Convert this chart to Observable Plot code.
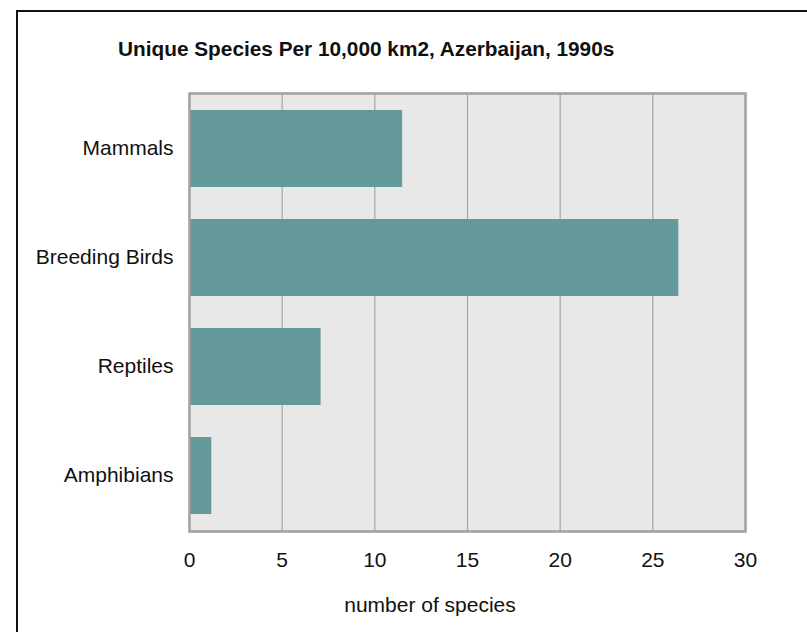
<!DOCTYPE html>
<html>
<head>
<meta charset="utf-8">
<script src="https://cdn.jsdelivr.net/npm/d3@7"></script>
<script src="https://cdn.jsdelivr.net/npm/@observablehq/plot@0.6"></script>
<style>
  html, body { margin: 0; padding: 0; background: #fff; overflow: hidden; }
  #wrap { position: relative; width: 807px; height: 632px; overflow: hidden; font-family: "Liberation Sans", Arial, sans-serif; }
  #border { position: absolute; left: 16px; top: 10px; width: 820px; height: 660px; border: 2px solid #111; box-sizing: border-box; }
  #title { position: absolute; left: 118px; top: 37px; font-size: 20.8px; font-weight: bold; color: #111; white-space: nowrap; }
  #xlabel { position: absolute; left: 430px; top: 593px; transform: translateX(-50%); font-size: 21px; color: #111; white-space: nowrap; }
  #chart { position: absolute; left: 0; top: 70px; }
</style>
</head>
<body>
<div id="wrap">
  <div id="border"></div>
  <div id="title">Unique Species Per 10,000 km2, Azerbaijan, 1990s</div>
  <div id="chart"></div>
  <div id="xlabel">number of species</div>
</div>
<script>
const categories = ["Mammals", "Breeding Birds", "Reptiles", "Amphibians"];
const values = [11.5, 26.4, 7.1, 1.2];
const xTicks = [0, 5, 10, 15, 20, 25, 30];
const gridTicks = [5, 10, 15, 20, 25];

const data = categories.map((c, i) => ({category: c, value: values[i]}));

const chart = Plot.plot({
  width: 807,
  height: 562,
  marginLeft: 189,
  marginRight: 62,
  marginTop: 23,
  marginBottom: 101,
  style: {fontFamily: "'Liberation Sans', Arial, sans-serif", fontSize: "21px", color: "#111", background: "transparent"},
  x: {domain: [0, 30], ticks: xTicks, label: null},
  y: {domain: categories, paddingInner: 0.29, paddingOuter: 0.14, label: null},
  marks: [
    Plot.frame({fill: "#e8e8e8", stroke: "none"}),
    Plot.gridX(gridTicks, {stroke: "#a4a4a4", strokeOpacity: 1, strokeWidth: 1.2}),
    Plot.barX(data, {x: "value", y: "category", fill: "#649a99"}),
    Plot.frame({stroke: "#a0a0a0", strokeWidth: 2.5}),
    Plot.axisX({ticks: xTicks, tickSize: 0, tickPadding: 21, label: null, fontSize: 21}),
    Plot.axisY({tickSize: 0, tickPadding: 16, label: null, fontSize: 21, dy: -1})
  ]
});
document.getElementById("chart").appendChild(chart);
</script>
</body>
</html>
